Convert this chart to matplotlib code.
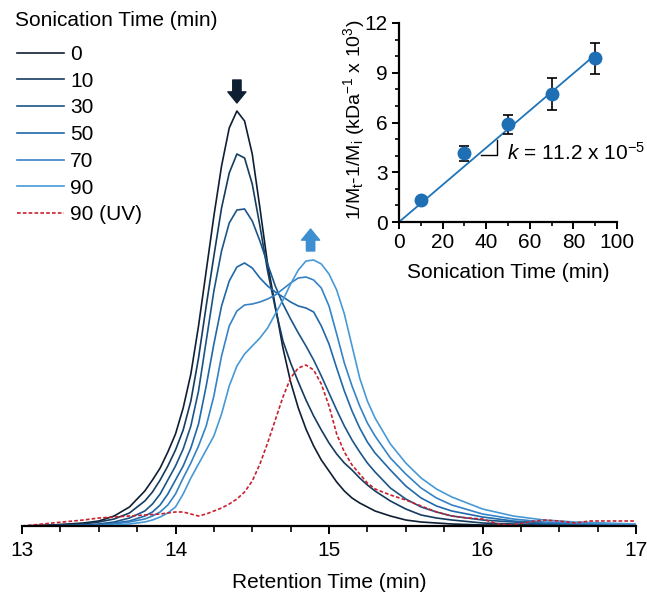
import matplotlib
matplotlib.use("Agg")
import matplotlib.pyplot as plt
from matplotlib.lines import Line2D
from matplotlib.ticker import MultipleLocator
import numpy as np

plt.rcParams['font.family'] = ['Liberation Sans', 'DejaVu Sans']
plt.rcParams['mathtext.fontset'] = 'custom'
plt.rcParams['mathtext.rm'] = 'Liberation Sans'
plt.rcParams['mathtext.it'] = 'Liberation Sans:italic'
plt.rcParams['mathtext.default'] = 'regular'

# GPC traces, retention time (min) vs RI signal (a.u.)
rt = [13.0, 13.2, 13.4, 13.5, 13.6, 13.7, 13.8, 13.85, 13.9, 13.95,
      14.0, 14.05, 14.1, 14.15, 14.2, 14.25, 14.3, 14.35, 14.4, 14.45,
      14.5, 14.55, 14.6, 14.65, 14.7, 14.75, 14.8, 14.85, 14.9, 14.95,
      15.0, 15.05, 15.1, 15.15, 15.2, 15.25, 15.3, 15.4, 15.5, 15.6,
      15.7, 15.8, 16.0, 16.2, 16.4, 16.6, 16.8, 17.0]

sig_0 = [0, 1, 3, 5, 10, 19, 35, 46, 58, 74,
         92, 118, 152, 200, 255, 310, 360, 398, 415, 405,
         372, 318, 262, 220, 178, 144, 118, 97, 80, 66,
         55, 44, 35, 28, 23, 19, 15, 10, 6, 4,
         3, 2, 1, 1, 0, 0, 0, 0]
sig_10 = [0, 1, 2, 4, 7, 13, 25, 34, 46, 60,
          76, 96, 125, 168, 220, 270, 318, 353, 372, 368,
          342, 300, 255, 218, 185, 163, 144, 126, 110, 96,
          83, 72, 63, 56, 48, 41, 35, 25, 17, 11,
          8, 6, 3, 2, 1, 1, 0, 0]
sig_30 = [0, 0, 1, 2, 4, 8, 15, 22, 32, 46,
          60, 77, 100, 135, 185, 235, 275, 303, 316, 317,
          305, 285, 262, 240, 222, 207, 193, 180, 166, 150,
          133, 116, 100, 86, 74, 63, 54, 38, 27, 19,
          14, 10, 6, 4, 2, 1, 1, 0]
sig_50 = [0, 0, 1, 1, 3, 5, 10, 14, 21, 32,
          46, 60, 78, 102, 140, 182, 220, 245, 259, 263,
          258, 248, 240, 234, 229, 224, 220, 218, 214, 200,
          182, 158, 135, 115, 98, 84, 73, 56, 40, 28,
          20, 15, 9, 5, 3, 2, 1, 1]
sig_70 = [0, 0, 0, 1, 2, 4, 7, 10, 14, 21,
          32, 48, 63, 80, 100, 130, 170, 200, 215, 221,
          222, 224, 227, 231, 237, 243, 248, 249, 246, 238,
          220, 192, 163, 140, 120, 103, 90, 68, 52, 38,
          28, 21, 12, 7, 4, 3, 2, 1]
sig_90 = [0, 0, 0, 0, 1, 2, 4, 6, 9, 13,
          19, 32, 48, 62, 76, 90, 112, 140, 160, 172,
          180, 188, 198, 212, 226, 242, 256, 265, 266, 262,
          252, 236, 212, 180, 148, 125, 108, 82, 63, 48,
          37, 29, 17, 10, 6, 4, 3, 2]

# UV trace (90 min), own time grid
rt_uv = [13.0, 13.2, 13.4, 13.5, 13.6, 13.7, 13.8, 13.9, 14.0, 14.05,
         14.1, 14.15, 14.2, 14.25, 14.3, 14.35, 14.4, 14.45, 14.5, 14.55,
         14.6, 14.65, 14.7, 14.75, 14.8, 14.85, 14.9, 14.95, 15.0, 15.05,
         15.1, 15.15, 15.2, 15.25, 15.3, 15.4, 15.5, 15.6, 15.7, 15.8,
         15.9, 16.0, 16.1, 16.2, 16.3, 16.4, 16.5, 16.6, 16.7, 16.8,
         16.9, 17.0]
sig_uv = [0, 3, 6, 8, 9, 10, 11, 12, 14, 14,
          12, 10, 12, 15, 18, 22, 27, 34, 45, 62,
          83, 106, 129, 148, 158, 161, 156, 142, 120, 92,
          74, 61, 52, 43, 37, 31, 26, 20, 14, 10,
          8, 7, 2, 1, 4, 6, 5, 3, 5, 5,
          5, 5]

labels = ['0', '10', '30', '50', '70', '90']
colors = ['#0f1f33', '#143c60', '#1b5588', '#2068a8', '#3583c6', '#4799d6']
uv_label = '90 (UV)'
uv_color = '#c8202e'

# inset: degradation kinetics
son_time = [10, 30, 50, 70, 90]
inv_m = [1.35, 4.15, 5.9, 7.73, 9.86]
inv_m_err = [0.15, 0.45, 0.58, 0.95, 0.93]
k_slope = 0.112  # k = 11.2 x 10^-5

FS = 15

fig = plt.figure(figsize=(6.47, 5.95), dpi=100)
ax = fig.add_axes([22 / 647, 69 / 595, 614 / 647, 526 / 595])

series = [sig_0, sig_10, sig_30, sig_50, sig_70, sig_90]
handles = []
for s, lab, c in zip(series, labels, colors):
    ax.plot(rt, s, color=c, lw=1.2)
    handles.append(Line2D([], [], color=c, lw=1.2, label=lab))
ax.plot(rt_uv, sig_uv, color=uv_color, lw=1.2, ls=(0, (2.2, 1.3)))
handles.append(Line2D([], [], color=uv_color, lw=1.2, ls=(0, (2.2, 1.3)), label=uv_label))

ax.set_xlim(13, 17)
ax.set_ylim(0, 526)
for sp in ['top', 'right', 'left']:
    ax.spines[sp].set_visible(False)
ax.spines['bottom'].set_linewidth(1.6)
ax.set_yticks([])
ax.xaxis.set_major_locator(MultipleLocator(1))
ax.xaxis.set_minor_locator(MultipleLocator(0.25))
ax.tick_params(axis='x', which='major', direction='out', length=6, width=1.4, labelsize=FS, pad=5)
ax.tick_params(axis='x', which='minor', direction='out', length=4, width=1.2)
ax.set_xlabel('Retention Time (min)', fontsize=FS, labelpad=9)

# arrows above the two peaks
astyle = 'simple,head_length=0.8,head_width=1.3,tail_width=0.6'
i0 = int(np.argmax(sig_0))
ax.annotate('', xy=(rt[i0], sig_0[i0] + 8), xytext=(rt[i0], sig_0[i0] + 31),
            arrowprops=dict(arrowstyle=astyle, color=colors[0], shrinkA=0, shrinkB=0,
                            mutation_scale=10))
i9 = int(np.argmax(sig_90))
ax.annotate('', xy=(rt[i9] - 0.02, sig_90[i9] + 31), xytext=(rt[i9] - 0.02, sig_90[i9] + 9),
            arrowprops=dict(arrowstyle=astyle, color='#3d8fd1', shrinkA=0, shrinkB=0,
                            mutation_scale=10))

fig.text(15 / 647, 1 - 20 / 595, 'Sonication Time (min)', fontsize=FS, va='center', ha='left')
ax.legend(handles=handles, loc='upper left', bbox_to_anchor=(17 / 647, 1 - 45 / 595),
          bbox_transform=fig.transFigure, frameon=False, fontsize=FS,
          borderpad=0, borderaxespad=0, handlelength=2.25, handletextpad=0.3,
          labelspacing=0.37)

# inset
ins = fig.add_axes([399 / 647, 373 / 595, 218 / 647, 199 / 595])
ins.plot([0, 90], [0, k_slope * 90], color='#1f74b8', lw=1.3, zorder=2)
ins.errorbar(son_time, inv_m, yerr=inv_m_err, fmt='o', color='#1f6fb5', ms=9,
             ecolor='black', elinewidth=1.2, capsize=3.5, capthick=1.2, zorder=3)
ins.set_xlim(0, 100)
ins.set_ylim(0, 12)
for sp in ['top', 'right']:
    ins.spines[sp].set_visible(False)
for sp in ['left', 'bottom']:
    ins.spines[sp].set_linewidth(1.6)
ins.xaxis.set_major_locator(MultipleLocator(20))
ins.xaxis.set_minor_locator(MultipleLocator(10))
ins.yaxis.set_major_locator(MultipleLocator(3))
ins.yaxis.set_minor_locator(MultipleLocator(1))
ins.tick_params(which='major', direction='out', length=5, width=1.4, labelsize=FS, pad=3)
ins.tick_params(which='minor', direction='out', length=3, width=1.2)
ins.set_xlabel('Sonication Time (min)', fontsize=FS, labelpad=8)
ins.set_ylabel('1/M$_t$-1/M$_i$ (kDa$^{-1}$ x 10$^3$)', fontsize=14)
ins.yaxis.set_label_coords(-0.148, 0.515)

# slope marker + label
ins.plot([0.376, 0.45, 0.45], [0.337, 0.337, 0.412], color='black', lw=1.0,
         transform=ins.transAxes, clip_on=False)
ins.text(0.495, 0.35, r'$\mathit{k}$ = 11.2 x 10$^{-5}$', transform=ins.transAxes,
         fontsize=FS, va='center', ha='left')

fig.savefig('out.png', dpi=100)
